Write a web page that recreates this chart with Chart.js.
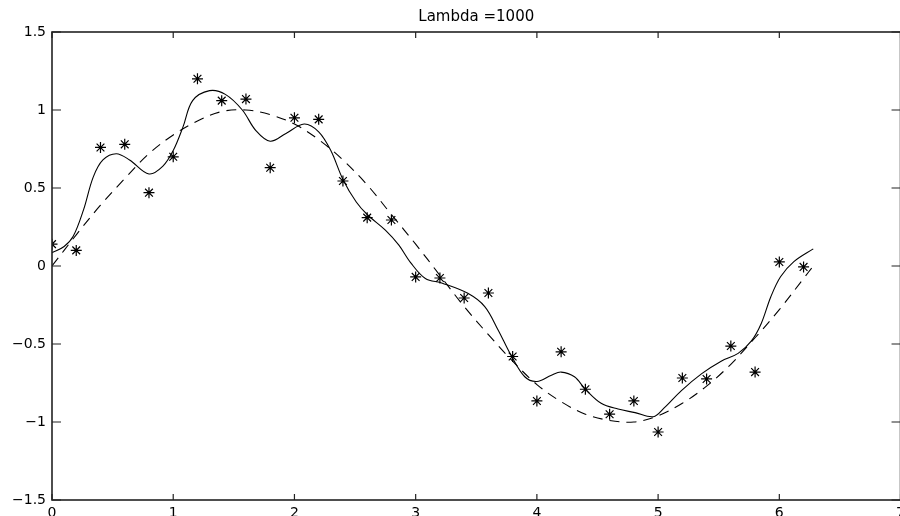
<!DOCTYPE html>
<html>
<head>
<meta charset="utf-8">
<title>Lambda =1000</title>
<script src="https://cdn.jsdelivr.net/npm/chart.js@4.4.1/dist/chart.umd.min.js"></script>
<style>
    html, body { margin: 0; padding: 0; background: #fff; overflow: hidden; }
    #wrap { position: absolute; left: 0; top: 0; width: 910px; height: 516px; }
</style>
</head>
<body>
<div id="wrap"><canvas id="lambdaChart"></canvas></div>
<script>
// --- Données ---
const sampleX = [0, 0.2, 0.4, 0.6, 0.8, 1.0, 1.2, 1.4, 1.6, 1.8, 2.0, 2.2, 2.4, 2.6, 2.8, 3.0,
                 3.2, 3.4, 3.6, 3.8, 4.0, 4.2, 4.4, 4.6, 4.8, 5.0, 5.2, 5.4, 5.6, 5.8, 6.0, 6.2];
const sampleY = [0.14, 0.10, 0.76, 0.78, 0.47, 0.70, 1.20, 1.06, 1.07, 0.63, 0.95, 0.94, 0.545, 0.31, 0.295, -0.07,
                 -0.077, -0.205, -0.173, -0.58, -0.865, -0.55, -0.79, -0.95, -0.865, -1.064, -0.718, -0.724, -0.513, -0.68, 0.026, -0.006];

// courbe lissée (trait plein)
const fitX = [0, 0.1, 0.175, 0.26, 0.34, 0.42, 0.53, 0.64, 0.8, 0.915, 1.0, 1.08, 1.16, 1.3, 1.43, 1.57, 1.68, 1.8,
              1.93, 2.08, 2.2, 2.3, 2.4, 2.51, 2.6, 2.75, 2.86, 2.96, 3.08, 3.22, 3.43, 3.57, 3.68, 3.79, 3.9, 4.0,
              4.12, 4.2, 4.31, 4.4, 4.53, 4.67, 4.81, 4.96, 5.05, 5.19, 5.36, 5.52, 5.66, 5.77, 5.85, 5.93, 6.01, 6.12, 6.28];
const fitY = [0.085, 0.125, 0.19, 0.36, 0.57, 0.68, 0.72, 0.68, 0.59, 0.64, 0.74, 0.89, 1.06, 1.124, 1.10, 1.0, 0.87, 0.80,
              0.85, 0.91, 0.86, 0.74, 0.555, 0.41, 0.33, 0.23, 0.135, 0.02, -0.08, -0.11, -0.175, -0.26, -0.41, -0.577, -0.71, -0.74,
              -0.70, -0.68, -0.71, -0.79, -0.88, -0.917, -0.94, -0.966, -0.91, -0.80, -0.69, -0.61, -0.56, -0.48, -0.37, -0.197, -0.069, 0.028, 0.11];

// courbe de référence (tirets)
const refX = [0, 0.2, 0.4, 0.6, 0.8, 1.0, 1.2, 1.4, 1.6, 1.8, 2.0, 2.2, 2.4, 2.6, 2.8, 3.0, 3.2,
              3.4, 3.6, 3.8, 4.0, 4.2, 4.4, 4.6, 4.8, 5.0, 5.2, 5.4, 5.6, 5.8, 6.0, 6.2, 6.28];
const refY = [0, 0.2, 0.39, 0.56, 0.72, 0.84, 0.93, 0.99, 1.0, 0.97, 0.91, 0.81, 0.68, 0.52, 0.33, 0.14, -0.06,
              -0.26, -0.44, -0.61, -0.76, -0.87, -0.95, -0.99, -1.0, -0.96, -0.88, -0.77, -0.63, -0.46, -0.28, -0.08, 0];

const xTicks = [0, 1, 2, 3, 4, 5, 6, 7];
const yTicks = [-1.5, -1, -0.5, 0, 0.5, 1, 1.5];
const titleText = 'Lambda =1000';

document.addEventListener('DOMContentLoaded', function () {

    const toPoints = (xs, ys) => xs.map((x, i) => ({ x: x, y: ys[i] }));

    // cadre + graduations vers l'intérieur (style matlab)
    const boxTicks = {
        id: 'boxTicks',
        afterDraw(chart) {
            const { ctx, chartArea: a, scales } = chart;
            ctx.save();
            ctx.strokeStyle = '#222';
            ctx.lineWidth = 1.6;
            ctx.strokeRect(a.left, a.top, a.right - a.left, a.bottom - a.top);
            ctx.lineWidth = 1.2;
            ctx.beginPath();
            xTicks.forEach(v => {
                const px = scales.x.getPixelForValue(v);
                ctx.moveTo(px, a.bottom); ctx.lineTo(px, a.bottom - 6);
                ctx.moveTo(px, a.top); ctx.lineTo(px, a.top + 6);
            });
            yTicks.forEach(v => {
                const py = scales.y.getPixelForValue(v);
                ctx.moveTo(a.left, py); ctx.lineTo(a.left + 9, py);
                ctx.moveTo(a.right, py); ctx.lineTo(a.right - 9, py);
            });
            ctx.stroke();
            ctx.restore();
        }
    };

    const ctx = document.getElementById('lambdaChart').getContext('2d');

    new Chart(ctx, {
        type: 'scatter',
        data: {
            datasets: [
                {
                    label: 'mesures',
                    data: toPoints(sampleX, sampleY),
                    showLine: false,
                    pointStyle: 'star',
                    pointRadius: 5.5,
                    borderColor: '#000',
                    borderWidth: 1.2
                },
                {
                    label: 'lissage',
                    data: toPoints(fitX, fitY),
                    showLine: true,
                    pointRadius: 0,
                    borderColor: '#000',
                    borderWidth: 1.1,
                    tension: 0.35
                },
                {
                    label: 'sin',
                    data: toPoints(refX, refY),
                    showLine: true,
                    pointRadius: 0,
                    borderColor: '#000',
                    borderWidth: 1.1,
                    borderDash: [10, 7],
                    tension: 0.35
                }
            ]
        },
        options: {
            responsive: true,
            maintainAspectRatio: false,
            animation: false,
            layout: { padding: { left: 0, right: 7, top: 0, bottom: 0 } },
            plugins: {
                legend: { display: false },
                tooltip: { enabled: false },
                title: {
                    display: true,
                    text: titleText,
                    fullSize: false,
                    color: '#000',
                    font: { family: 'DejaVu Sans', size: 15, weight: 'normal', lineHeight: 1.2 },
                    padding: { top: 8, bottom: 6 }
                }
            },
            scales: {
                x: {
                    type: 'linear',
                    min: 0,
                    max: 7,
                    afterBuildTicks: s => { s.ticks = xTicks.map(v => ({ value: v })); },
                    afterFit: s => { s.height = 16; },
                    grid: { display: false, drawTicks: false },
                    border: { display: false },
                    ticks: {
                        color: '#000',
                        padding: 5,
                        maxRotation: 0,
                        font: { family: 'DejaVu Sans', size: 14 }
                    }
                },
                y: {
                    type: 'linear',
                    min: -1.5,
                    max: 1.5,
                    afterBuildTicks: s => { s.ticks = yTicks.map(v => ({ value: v })); },
                    afterFit: s => { s.width = 52; },
                    grid: { display: false, drawTicks: false },
                    border: { display: false },
                    ticks: {
                        color: '#000',
                        padding: 6,
                        font: { family: 'DejaVu Sans', size: 14 },
                        callback: v => String(v).replace('-', '\u2212')
                    }
                }
            }
        },
        plugins: [boxTicks]
    });

});
</script>
</body>
</html>
